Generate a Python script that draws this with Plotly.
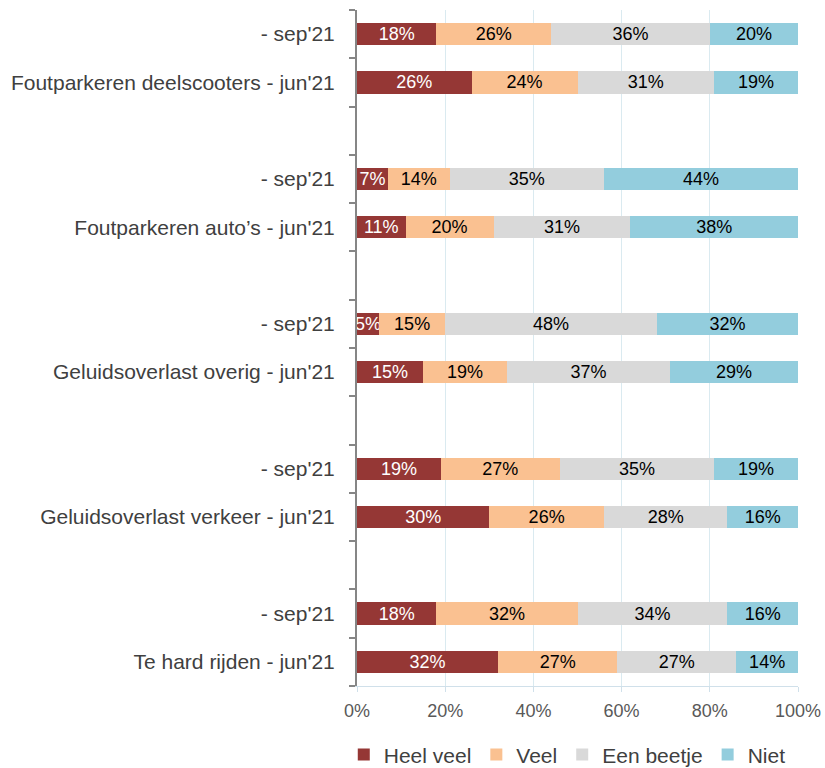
import plotly.graph_objects as go

ZW = "\u200b"
categories = [
    "Te hard rijden - jun'21", "- sep'21",
    ZW,
    "Geluidsoverlast verkeer - jun'21", "- sep'21" + ZW,
    ZW * 2,
    "Geluidsoverlast overig - jun'21", "- sep'21" + ZW * 2,
    ZW * 3,
    "Foutparkeren auto\u2019s - jun'21", "- sep'21" + ZW * 3,
    ZW * 4,
    "Foutparkeren deelscooters - jun'21", "- sep'21" + ZW * 4,
]
heel_veel = [32, 18, None, 30, 19, None, 15, 5, None, 11, 7, None, 26, 18]
veel = [27, 32, None, 26, 27, None, 19, 15, None, 20, 14, None, 24, 26]
een_beetje = [27, 34, None, 28, 35, None, 37, 48, None, 31, 35, None, 31, 36]
niet = [14, 16, None, 16, 19, None, 29, 32, None, 38, 44, None, 19, 20]
x_tickvals = [0, 20, 40, 60, 80, 100]
x_ticktext = ["0%", "20%", "40%", "60%", "80%", "100%"]

series = [
    ("Heel veel", heel_veel, "#953735", "white"),
    ("Veel", veel, "#FAC191", "black"),
    ("Een beetje", een_beetje, "#D9D9D9", "black"),
    ("Niet", niet, "#93CDDD", "black"),
]

fig = go.Figure()
for name, vals, color, tcolor in series:
    fig.add_trace(go.Bar(
        y=categories, x=vals, name=name, orientation="h",
        marker=dict(color=color, line=dict(width=0)),
        text=[("" if v is None else f"{v}%") for v in vals],
        texttemplate="%{text}", textposition="inside", insidetextanchor="middle",
        textangle=0, constraintext="none",
        textfont=dict(color=tcolor, size=18, family="Liberation Sans, Arial"),
        hoverinfo="skip",
    ))

fig.update_layout(
    barmode="stack",
    bargap=0.54,
    width=825, height=768,
    margin=dict(l=357, r=27, t=10, b=82, autoexpand=False),
    plot_bgcolor="white", paper_bgcolor="white",
    font=dict(family="Liberation Sans, Arial", size=18, color="#404040"),
    uniformtext=dict(minsize=18, mode="show"),
    legend=dict(orientation="h", x=-0.03, xanchor="left", y=-0.102, yanchor="middle",
                font=dict(size=21, color="#404040"), traceorder="normal",
                itemwidth=30),
    xaxis=dict(range=[0, 100], tickmode="array", tickvals=x_tickvals, ticktext=x_ticktext,
               showgrid=True, gridcolor="#DAEAF0", gridwidth=1,
               showline=True, linecolor="#D0E0EA", linewidth=1,
               ticks="outside", ticklen=5, tickcolor="#D0E0EA",
               tickfont=dict(size=18, color="#595959"), zeroline=False,
               automargin=False, ticklabelstandoff=3),
    yaxis=dict(type="category", categoryorder="array", categoryarray=categories,
               range=[-0.5, len(categories) - 0.5],
               showline=True, linecolor="#868686", linewidth=2,
               ticks="outside", ticklen=6, tickcolor="#868686", tickwidth=2,
               tickson="boundaries", showgrid=False, automargin=False,
               tickfont=dict(size=21, color="#404040"), ticklabelstandoff=16),
)

fig.write_html("out.html", config={"displayModeBar": False},
               post_script="document.body.style.margin='0';")
